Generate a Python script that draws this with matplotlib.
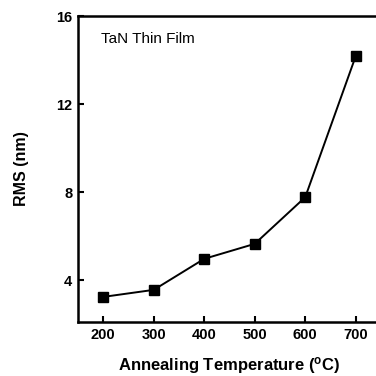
import matplotlib
matplotlib.use('Agg')
import matplotlib.pyplot as plt

# annealing temperature (C) vs surface roughness RMS (nm)
temps = [200, 300, 400, 500, 600, 700]
rms = [3.24, 3.56, 4.97, 5.65, 7.77, 14.18]

plt.rcParams['font.family'] = ['Liberation Sans', 'DejaVu Sans']
plt.rcParams['font.weight'] = 'bold'
plt.rcParams['mathtext.default'] = 'regular'

fig = plt.figure(figsize=(3.76, 3.76), dpi=100)
# right spine sits just past the picture edge in the original
ax = fig.add_axes([78 / 376, 1 - 322 / 376, 303 / 376, 306 / 376])

ax.plot(temps, rms, '-s', color='black', linewidth=1.4,
        markersize=6.5, markerfacecolor='black')

ax.set_xlim(150, 750)
ax.set_ylim(2.1, 16)
ax.set_xticks([200, 300, 400, 500, 600, 700])
ax.set_yticks([4, 8, 12, 16])
ax.tick_params(direction='in', length=4, width=1.5, labelsize=10.5,
               top=False, right=False, pad=4)
for lbl in ax.get_xticklabels() + ax.get_yticklabels():
    lbl.set_fontweight('bold')
for sp in ax.spines.values():
    sp.set_linewidth(1.8)

ax.set_xlabel(r'Annealing Temperature ($^{o}$C)', fontsize=12,
              fontweight='bold', labelpad=10)
ax.set_ylabel('RMS (nm)', fontsize=11.5, fontweight='bold', labelpad=20)
ax.text(0.075, 0.925, 'TaN Thin Film', transform=ax.transAxes,
        fontsize=11, fontweight='normal', va='center', ha='left')

fig.savefig('out.png', dpi=100)
